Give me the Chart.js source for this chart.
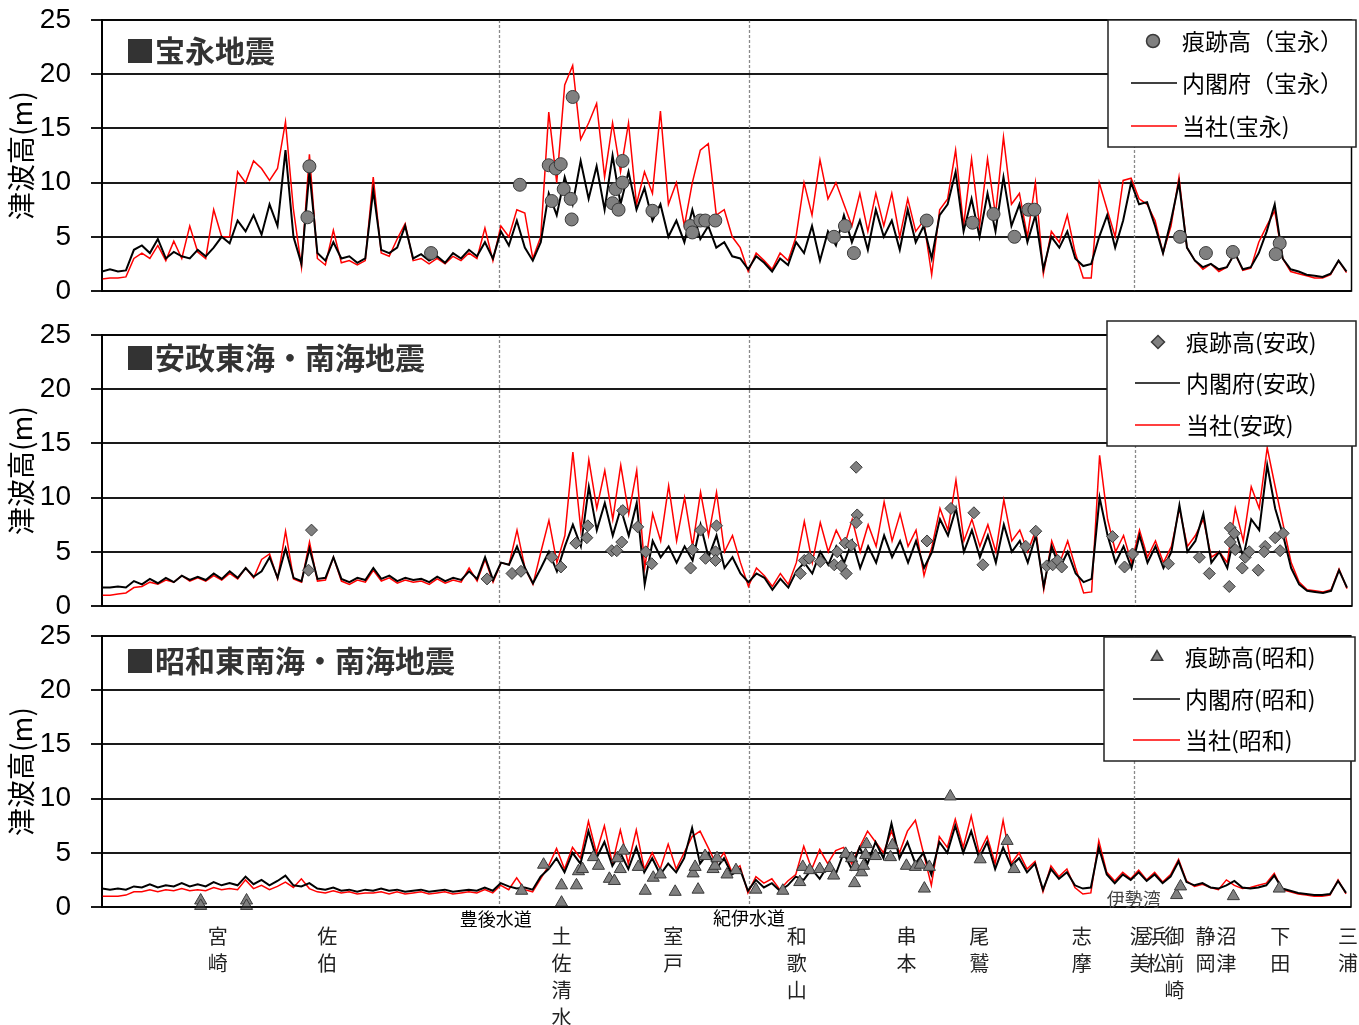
<!DOCTYPE html>
<html lang="ja">
<head>
<meta charset="utf-8">
<title>津波高の比較</title>
<script src="https://cdn.jsdelivr.net/npm/chart.js@4.4.1/dist/chart.umd.min.js"></script>
<style>
  html, body { margin: 0; padding: 0; background: #fff; }
  #wrap { position: relative; width: 1359px; height: 1025px; overflow: hidden; }
  canvas { position: absolute; left: 0; }
</style>
</head>
<body>
<div id="wrap">
  <canvas id="hoei" width="1359" height="310" style="top:0px"></canvas>
  <canvas id="ansei" width="1359" height="308" style="top:312px"></canvas>
  <canvas id="showa" width="1359" height="405" style="top:620px"></canvas>
</div>
<script>
// coast distance between two samples (same unit as X_MAX)
const STEP = 8;
const X_MAX = 1253;
const Y_MAX = 25;
const Y_STEP = 5;

// 宝永
const HOEI_CABINET = [
  1.8, 2.0, 1.8, 1.9, 3.8, 4.2, 3.5, 4.8, 3.0, 3.6,
  3.2, 3.0, 3.8, 3.2, 4.0, 5.0, 4.4, 6.5, 5.5, 7.0,
  5.2, 8.0, 6.0, 13.0, 5.0, 2.5, 11.0, 3.5, 2.8, 4.5,
  3.0, 3.2, 2.6, 3.0, 9.3, 3.8, 3.5, 4.0, 6.0, 3.0,
  3.4, 2.8, 3.2, 2.6, 3.5, 3.0, 3.8, 3.2, 4.5, 3.0,
  5.5, 4.2, 6.5, 4.0, 2.8, 4.5, 9.0, 7.0, 10.5, 8.0,
  12.0, 8.5, 11.5, 7.5, 12.5, 8.0, 11.0, 7.5, 9.5, 6.5,
  8.0, 5.0, 6.5, 4.5, 7.5, 4.8, 6.0, 4.0, 4.5, 3.2,
  3.0, 2.0, 3.2, 2.6, 1.8, 3.0, 2.4, 4.5, 3.5, 6.0,
  2.8, 5.5, 4.2, 7.0, 4.5, 6.5, 3.8, 7.5, 5.0, 6.5,
  3.8, 7.5, 4.5, 6.0, 3.0, 7.0, 8.0, 11.0, 5.5, 8.5,
  5.0, 9.0, 5.5, 10.5, 6.0, 8.0, 4.5, 7.0, 2.0, 5.0,
  4.0, 5.5, 3.0, 2.3, 2.5, 5.0, 7.0, 4.0, 6.5, 10.0,
  8.0, 8.2, 6.0, 3.5, 6.5, 10.0, 4.0, 2.8, 2.2, 2.5,
  2.0, 2.2, 3.5, 2.0, 2.2, 3.5, 5.5, 8.0, 3.0, 2.0,
  1.8, 1.5, 1.4, 1.3, 1.6, 2.8, 1.8
];
const HOEI_OURS = [
  1.1, 1.2, 1.2, 1.3, 3.0, 3.5, 3.0, 4.2, 2.8, 4.6,
  3.0, 6.0, 3.6, 3.0, 7.5, 5.0, 5.0, 11.0, 10.0, 12.0,
  11.3, 10.2, 11.3, 15.6, 7.5, 2.2, 12.6, 3.0, 2.4, 5.6,
  2.6, 2.8, 2.4, 2.8, 10.5, 3.5, 3.2, 4.8, 6.2, 2.8,
  3.0, 2.5, 3.0, 2.5, 3.2, 2.8, 3.5, 3.0, 5.8, 2.8,
  6.0, 5.0, 7.5, 7.2, 3.0, 5.0, 16.5, 10.0, 19.0, 20.8,
  14.0, 15.5, 17.3, 10.5, 15.5, 11.0, 15.5, 8.0, 11.0, 9.0,
  16.6, 8.0, 10.0, 6.0, 10.0, 13.0, 13.6, 7.0, 7.5, 5.0,
  4.0, 1.8, 3.5, 2.8, 2.0, 3.5, 2.8, 5.0, 10.0, 7.0,
  12.1, 8.5, 10.0, 8.0, 6.0, 9.0, 5.5, 9.0, 6.0, 9.0,
  5.0, 8.5, 5.5, 6.5, 1.5, 7.5, 8.5, 13.0, 6.0, 12.2,
  6.0, 12.2, 7.0, 14.2, 8.0, 9.0, 5.0, 10.0, 1.6, 5.5,
  4.5, 7.0, 3.5, 1.2, 1.2, 10.0, 7.5, 5.0, 10.2, 10.4,
  8.5, 8.0, 6.5, 3.5, 6.0, 10.5, 4.0, 2.8, 2.0, 2.5,
  1.8, 2.2, 3.5, 1.9, 2.1, 4.5, 6.0, 7.4, 3.0, 1.8,
  1.6, 1.4, 1.2, 1.2, 1.5, 2.8, 1.7
];
const HOEI_TRACE = [
  [208, 11.5], [206, 6.8], [330, 3.5], [419, 9.8], [448, 11.6], [455, 11.3],
  [460, 11.7], [451, 8.3], [463, 9.4], [470, 8.5], [471, 6.6], [472, 17.9],
  [512, 8.1], [515, 9.4], [518, 7.5], [522, 10.0], [522, 12.0], [552, 7.4],
  [590, 6.0], [592, 5.4], [600, 6.5], [605, 6.5], [615, 6.5], [734, 5.0],
  [745, 6.0], [754, 3.5], [827, 6.5], [873, 6.3], [894, 7.1], [915, 5.0],
  [929, 7.5], [935, 7.5], [1081, 5.0], [1107, 3.5], [1134, 3.6], [1181, 4.4],
  [1177, 3.4]
];

// 安政
const ANSEI_CABINET = [
  1.7, 1.7, 1.8, 1.7, 2.3, 2.0, 2.5, 2.1, 2.6, 2.2,
  2.8, 2.4, 2.7, 2.4, 3.0, 2.5, 3.2, 2.6, 3.5, 2.7,
  3.2, 4.5, 2.6, 5.3, 2.6, 2.3, 5.3, 2.5, 2.6, 4.5,
  2.5, 2.2, 2.6, 2.4, 3.5, 2.5, 2.8, 2.3, 2.6, 2.4,
  2.5, 2.2, 2.7, 2.3, 2.6, 2.4, 3.2, 2.5, 4.5, 2.4,
  4.0, 3.8, 5.5, 3.5, 2.1, 3.5, 5.0, 3.2, 5.5, 7.5,
  5.5, 11.0, 7.0, 9.5, 6.5, 9.0, 6.5, 9.5, 2.0, 6.0,
  4.5, 5.5, 4.0, 5.5, 4.2, 7.5, 4.5, 6.5, 3.5, 4.5,
  3.0, 2.2, 3.0, 2.6, 1.5, 2.5, 1.7, 3.2, 4.0, 3.0,
  5.0, 3.8, 5.5, 4.0, 6.0, 3.5, 5.5, 4.0, 6.5, 4.5,
  6.0, 4.0, 6.0, 3.5, 5.0, 8.0, 6.5, 9.0, 5.0, 7.0,
  4.5, 6.5, 4.0, 7.5, 5.0, 6.0, 4.0, 6.5, 1.8, 5.5,
  3.5, 5.0, 3.0, 2.2, 2.5, 10.0, 6.5, 4.0, 5.5, 3.5,
  6.5, 4.0, 5.5, 3.5, 5.0, 9.3, 5.0, 6.0, 8.5, 4.0,
  5.0, 3.5, 7.0, 4.5, 8.0, 7.0, 13.0, 9.0, 6.5, 3.5,
  2.0, 1.4, 1.3, 1.2, 1.4, 3.3, 1.7
];
const ANSEI_OURS = [
  1.0, 1.0, 1.1, 1.2, 1.7, 1.8, 2.2, 2.0, 2.4, 2.2,
  2.8, 2.3, 2.6, 2.3, 2.8, 2.4, 3.0, 2.5, 3.5, 2.6,
  4.3, 4.8, 2.5, 6.9, 2.5, 2.2, 5.9, 2.3, 2.4, 4.5,
  2.3, 2.0, 2.4, 2.2, 3.3, 2.3, 2.6, 2.1, 2.4, 2.2,
  2.3, 2.0, 2.5, 2.1, 2.4, 2.2, 3.5, 2.3, 4.3, 2.2,
  4.0, 3.8, 7.0, 3.5, 2.0, 5.0, 7.9, 4.0, 6.5, 14.2,
  7.0, 13.5, 9.0, 12.5, 8.0, 13.0, 8.5, 12.5, 3.5, 8.5,
  6.0, 11.1, 6.0, 10.0, 5.5, 10.5, 6.5, 10.5, 5.0, 6.5,
  4.0, 1.8, 3.5, 2.8, 1.8, 3.0, 2.0, 4.0, 7.8, 4.0,
  7.7, 5.0, 7.0, 5.5, 8.0, 5.0, 7.5, 5.5, 9.6, 6.0,
  8.5, 5.5, 7.0, 2.8, 5.5, 9.0, 7.0, 11.6, 6.0, 8.0,
  5.5, 7.5, 5.0, 9.8, 6.0, 7.0, 5.0, 7.0, 1.5, 6.0,
  4.0, 6.0, 3.5, 1.2, 1.3, 13.9, 8.0, 5.0, 6.5, 4.0,
  7.0, 4.5, 6.0, 4.0, 5.5, 9.0, 5.5, 6.5, 8.0, 4.5,
  5.0, 4.0, 9.0, 6.0, 11.0, 9.0, 14.6, 11.0, 7.5, 4.0,
  2.2, 1.5, 1.4, 1.3, 1.5, 3.4, 1.6
];
const ANSEI_TRACE = [
  [210, 7.0], [207, 3.3], [386, 2.5], [411, 3.0], [420, 3.2], [451, 4.5],
  [460, 3.6], [475, 5.8], [486, 6.3], [487, 7.4], [511, 5.1], [516, 5.1],
  [521, 5.9], [522, 8.8], [537, 7.3], [545, 5.0], [551, 3.9], [590, 3.5],
  [592, 5.2], [600, 7.0], [605, 4.4], [615, 5.0], [615, 4.2], [616, 7.4],
  [700, 3.0], [704, 4.2], [709, 4.4], [720, 4.1], [734, 3.8], [737, 5.0],
  [741, 3.7], [746, 3.0], [745, 5.8], [751, 5.6], [756, 12.8], [757, 8.4],
  [756, 7.7], [827, 6.0], [851, 9.0], [874, 8.6], [883, 3.8], [926, 5.5],
  [936, 6.9], [947, 3.7], [953, 3.8], [958, 4.2], [962, 3.6], [1013, 6.4],
  [1025, 3.6], [1033, 4.8], [1069, 3.9], [1100, 4.5], [1110, 3.0], [1131, 7.2],
  [1135, 6.7], [1131, 5.9], [1136, 5.2], [1130, 1.8], [1143, 3.5], [1146, 4.5],
  [1150, 5.0], [1159, 3.3], [1166, 5.5], [1165, 5.0], [1176, 6.3], [1184, 6.7],
  [1181, 5.1]
];

// 昭和
const SHOWA_CABINET = [
  1.7, 1.6, 1.7, 1.6, 1.9, 1.8, 2.1, 1.8, 2.0, 1.9,
  2.2, 1.9, 2.1, 1.9, 2.3, 2.0, 2.2, 2.0, 2.8, 2.1,
  2.5, 2.0, 2.4, 2.9, 2.0, 1.9, 2.2, 1.7, 1.6, 1.8,
  1.5, 1.6, 1.4, 1.6, 1.5, 1.7, 1.5, 1.6, 1.4, 1.5,
  1.6, 1.4, 1.5, 1.6, 1.4, 1.5, 1.6, 1.5, 1.8, 1.5,
  2.2, 1.9, 1.7, 1.8, 1.6, 2.8, 3.5, 4.5, 3.2, 5.0,
  4.0, 7.0, 4.5, 6.0, 3.8, 5.0, 3.5, 5.5, 3.2, 4.5,
  3.0, 4.0, 3.2, 4.5, 7.3, 4.0, 5.0, 3.5, 4.5, 3.0,
  3.5, 1.5, 2.5, 1.8, 2.2, 1.5, 2.0, 2.8, 2.5, 3.5,
  2.6, 3.8, 3.0, 5.0, 3.5, 5.5, 4.0, 6.0, 4.5, 7.7,
  4.5, 6.0, 4.0, 5.0, 3.0, 6.0, 5.0, 7.5, 5.0, 7.0,
  4.5, 6.0, 3.5, 5.5, 3.8, 4.5, 3.2, 4.0, 1.6, 3.5,
  2.6, 3.2, 2.0, 1.7, 1.8, 5.5, 3.0, 2.2, 3.0, 2.5,
  3.2, 2.4, 3.0, 2.2, 2.8, 4.2, 2.3, 2.0, 2.2, 1.8,
  1.7, 2.0, 2.4, 1.8, 1.7, 1.8, 2.0, 2.9, 1.7, 1.5,
  1.3, 1.2, 1.1, 1.1, 1.2, 2.4, 1.3
];
const SHOWA_OURS = [
  1.0, 1.0, 1.0, 1.1, 1.4, 1.4, 1.6, 1.4, 1.6, 1.5,
  1.7, 1.5, 1.6, 1.5, 1.8, 1.6, 1.7, 1.6, 2.5, 1.7,
  2.0, 1.6, 1.9, 2.3, 1.8, 2.6, 1.7, 1.4, 1.3, 1.5,
  1.3, 1.4, 1.2, 1.3, 1.3, 1.4, 1.2, 1.4, 1.2, 1.3,
  1.4, 1.2, 1.3, 1.4, 1.2, 1.3, 1.4, 1.3, 1.6, 1.3,
  2.0, 1.6, 2.7, 1.6, 1.4, 2.6, 3.8, 5.4, 3.5, 5.5,
  4.5, 7.9, 5.0, 7.5, 4.0, 7.1, 4.0, 7.1, 3.5, 5.0,
  3.5, 5.8, 3.5, 5.0, 6.5, 7.0, 5.5, 4.0, 5.0, 3.2,
  3.8, 1.3, 2.8, 2.2, 2.6, 1.6, 2.4, 3.0, 5.6, 3.5,
  5.3, 4.0, 5.2, 5.5, 4.0, 5.5, 7.0, 6.0, 5.0, 7.0,
  5.0, 7.0, 8.0, 5.0, 2.0, 6.5, 5.5, 8.1, 5.5, 8.4,
  5.0, 6.5, 4.0, 8.0, 4.0, 5.0, 3.5, 4.2, 1.4, 3.8,
  2.8, 3.5, 1.8, 1.2, 1.3, 6.1, 3.2, 2.4, 3.2, 2.6,
  3.4, 2.5, 3.2, 2.3, 3.0, 4.4, 2.4, 1.9, 2.1, 1.8,
  1.6, 2.5, 2.0, 1.7, 1.8, 2.0, 2.2, 3.1, 1.6, 1.4,
  1.2, 1.1, 1.0, 1.0, 1.1, 2.5, 1.2
];
const SHOWA_TRACE = [
  [99, 0.6], [99, 0.1], [145, 0.6], [145, 0.1], [421, 1.5], [443, 3.9],
  [461, 2.0], [461, 0.4], [476, 2.0], [478, 3.3], [482, 3.5], [493, 4.6],
  [498, 3.8], [509, 2.6], [514, 2.4], [517, 4.5], [520, 3.5], [523, 5.2],
  [538, 3.7], [545, 1.5], [553, 2.7], [560, 3.0], [575, 1.4], [593, 3.1],
  [595, 3.7], [598, 1.6], [605, 4.7], [613, 3.5], [615, 3.8], [617, 4.5],
  [627, 3.0], [636, 3.4], [656, 1.6], [683, 1.5], [700, 2.3], [703, 3.7],
  [710, 3.4], [720, 3.5], [730, 3.6], [734, 2.9], [746, 4.9], [752, 4.5],
  [755, 2.2], [756, 3.7], [762, 3.2], [764, 3.8], [767, 5.8], [766, 4.8],
  [776, 4.7], [793, 5.7], [791, 4.6], [807, 3.8], [816, 3.7], [821, 3.9],
  [830, 3.7], [825, 1.7], [851, 10.2], [881, 4.4], [908, 6.1], [915, 3.5],
  [1078, 1.1], [1082, 1.9], [1135, 1.0], [1181, 1.7]
];

const PLACES = [
  ['宮崎', 116], ['佐伯', 226], ['土佐清水', 461], ['室戸', 573], ['和歌山', 697],
  ['串本', 807], ['尾鷲', 880], ['志摩', 983], ['渥美', 1041], ['浜松', 1058],
  ['御前崎', 1076], ['静岡', 1107], ['沼津', 1128], ['下田', 1182], ['三浦', 1250]
];
const STRAITS = [['豊後水道', 398], ['紀伊水道', 649], ['伊勢湾', 1035]];

const FONT_JP = '"Noto Sans CJK JP", "Noto Sans", sans-serif';
const FONT_NUM = '"Liberation Sans", Arial, sans-serif';
const MARK_FILL = '#808080';
const MARK_EDGE = '#3a3a3a';

function series(arr) {
  return arr.map((v, i) => ({ x: i * STEP, y: v }));
}
function marks(arr) {
  return arr.map(p => ({ x: p[0], y: p[1] }));
}

const decor = {
  id: 'decor',
  beforeDatasetsDraw(chart) {
    const { ctx, chartArea: a, scales: { x } } = chart;
    ctx.save();
    ctx.strokeStyle = '#8a8a8a';
    ctx.lineWidth = 1.3;
    ctx.setLineDash([3, 2]);
    STRAITS.forEach(s => {
      const px = Math.round(x.getPixelForValue(s[1])) + 0.5;
      ctx.beginPath();
      ctx.moveTo(px, a.top);
      ctx.lineTo(px, a.bottom);
      ctx.stroke();
    });
    ctx.restore();
  },
  afterDraw(chart, args, opts) {
    const { ctx, chartArea: a, scales: { x } } = chart;
    ctx.save();
    ctx.strokeStyle = '#000';
    ctx.lineWidth = 1.5;
    ctx.strokeRect(a.left, a.top, a.right - a.left, a.bottom - a.top);

    // panel title
    ctx.fillStyle = '#333';
    ctx.font = 'bold 30px ' + FONT_JP;
    ctx.textBaseline = 'middle';
    ctx.textAlign = 'left';
    ctx.fillText(opts.title, 125, opts.titleY);

    // legend box
    const L = opts.legend;
    ctx.fillStyle = '#fff';
    ctx.fillRect(L.x, L.y, L.w, L.h);
    ctx.lineWidth = 1.5;
    ctx.strokeStyle = '#222';
    ctx.strokeRect(L.x, L.y, L.w, L.h);
    ctx.fillStyle = MARK_FILL;
    ctx.strokeStyle = MARK_EDGE;
    Chart.helpers.drawPoint(ctx, { pointStyle: opts.marker, radius: 6.5, borderWidth: 1, rotation: 0 }, L.markX, L.rows[0]);
    ctx.lineWidth = 1.5;
    ctx.strokeStyle = '#000';
    ctx.beginPath(); ctx.moveTo(L.lineX[0], L.rows[1]); ctx.lineTo(L.lineX[1], L.rows[1]); ctx.stroke();
    ctx.strokeStyle = '#ff0000';
    ctx.beginPath(); ctx.moveTo(L.lineX[0], L.rows[2]); ctx.lineTo(L.lineX[1], L.rows[2]); ctx.stroke();
    ctx.fillStyle = '#000';
    ctx.font = '23px ' + FONT_JP;
    opts.labels.forEach((t, i) => ctx.fillText(t, L.textX, L.rows[i]));

    // strait names under the last panel
    if (opts.straitNames) {
      ctx.textAlign = 'center';
      ctx.font = '18px ' + FONT_JP;
      ctx.fillStyle = '#000';
      ctx.fillText(STRAITS[0][0], x.getPixelForValue(STRAITS[0][1]) - 3, a.bottom + 12);
      ctx.fillText(STRAITS[1][0], x.getPixelForValue(STRAITS[1][1]), a.bottom + 11);
      ctx.fillStyle = '#444';
      ctx.fillText(STRAITS[2][0], x.getPixelForValue(STRAITS[2][1]), a.bottom - 8);
    }
    ctx.restore();
  }
};

function makeChart(id, cfg) {
  const showPlaces = !!cfg.places;
  return new Chart(document.getElementById(id), {
    type: 'line',
    data: {
      datasets: [
        {
          label: cfg.labels[0], data: marks(cfg.trace), showLine: false, order: 0,
          pointStyle: cfg.marker, pointRadius: cfg.markerSize, pointBackgroundColor: MARK_FILL,
          pointBorderColor: MARK_EDGE, pointBorderWidth: 1, clip: false
        },
        {
          label: cfg.labels[1], data: series(cfg.cabinet), order: 1,
          borderColor: '#000', borderWidth: 2, pointRadius: 0, tension: 0
        },
        {
          label: cfg.labels[2], data: series(cfg.ours), order: 2,
          borderColor: '#ff0000', borderWidth: 1.5, pointRadius: 0, tension: 0
        }
      ]
    },
    options: {
      responsive: false,
      animation: false,
      events: [],
      devicePixelRatio: 1,
      layout: { padding: { top: cfg.padTop, bottom: cfg.padBottom, left: 0, right: 4 } },
      scales: {
        x: {
          type: 'linear', min: 0, max: X_MAX,
          display: showPlaces,
          grid: { display: false, drawTicks: false },
          border: { display: false },
          afterBuildTicks: s => { s.ticks = PLACES.map(p => ({ value: p[1] })); },
          ticks: {
            autoSkip: false, maxRotation: 0, minRotation: 0, padding: 16, color: '#222',
            font: { family: FONT_JP, size: 20, lineHeight: 1.35 },
            callback: v => {
              const p = PLACES.find(q => q[1] === v);
              return p ? p[0].split('') : '';
            }
          },
          afterFit: s => {
            s.height = showPlaces ? 118 : 0;
            s.paddingLeft = 0; s.paddingRight = 0;
          }
        },
        y: {
          min: 0, max: Y_MAX,
          ticks: { stepSize: Y_STEP, padding: 20, color: '#000', font: { family: FONT_NUM, size: 28 } },
          grid: { color: '#1a1a1a', lineWidth: 2, tickLength: 11 },
          border: { display: true, color: '#000', width: 2 },
          title: {
            display: true, text: '津波高(m)', color: '#000',
            font: { family: FONT_JP, size: 28 }, padding: { top: 5, bottom: 0 }
          },
          afterFit: s => { s.width = 102; s.paddingTop = 0; s.paddingBottom = 0; }
        }
      },
      plugins: {
        legend: { display: false },
        tooltip: { enabled: false },
        decor: {
          title: cfg.title, titleY: cfg.titleY, marker: cfg.marker,
          labels: cfg.labels, legend: cfg.legend, straitNames: showPlaces
        }
      }
    },
    plugins: [decor]
  });
}

makeChart('hoei', {
  title: '■宝永地震', titleY: 51, padTop: 20, padBottom: 19,
  cabinet: HOEI_CABINET, ours: HOEI_OURS, trace: HOEI_TRACE,
  marker: 'circle', markerSize: 6.5,
  labels: ['痕跡高（宝永）', '内閣府（宝永）', '当社(宝永)'],
  legend: { x: 1108, y: 20, w: 248, h: 127, rows: [41, 83, 126], markX: 1153, lineX: [1131, 1177], textX: 1182 }
});

makeChart('ansei', {
  title: '■安政東海・南海地震', titleY: 46, padTop: 23, padBottom: 14,
  cabinet: ANSEI_CABINET, ours: ANSEI_OURS, trace: ANSEI_TRACE,
  marker: 'rectRot', markerSize: 6,
  labels: ['痕跡高(安政)', '内閣府(安政)', '当社(安政)'],
  legend: { x: 1107, y: 9, w: 249, h: 125, rows: [30, 71, 113], markX: 1158, lineX: [1135, 1180], textX: 1186 }
});

makeChart('showa', {
  title: '■昭和東南海・南海地震', titleY: 41, padTop: 16, padBottom: 0, places: true,
  cabinet: SHOWA_CABINET, ours: SHOWA_OURS, trace: SHOWA_TRACE,
  marker: 'triangle', markerSize: 7,
  labels: ['痕跡高(昭和)', '内閣府(昭和)', '当社(昭和)'],
  legend: { x: 1104, y: 17, w: 251, h: 124, rows: [37, 79, 120], markX: 1157, lineX: [1133, 1180], textX: 1185 }
});
</script>
</body>
</html>
